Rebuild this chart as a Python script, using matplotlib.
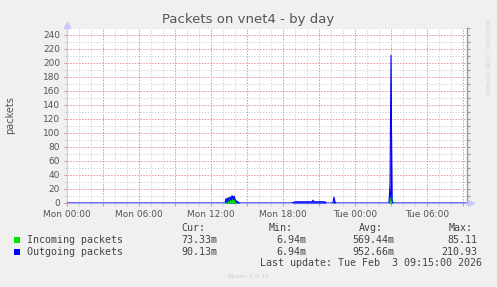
import numpy as np
import matplotlib
matplotlib.use("Agg")
import matplotlib.pyplot as plt
from matplotlib.patches import Rectangle

# datos (horas desde Mon 00:00, paquetes por segundo)
hours_out = [0.0, 13.17, 13.25, 13.33, 13.42, 13.5, 13.58, 13.67, 13.75, 13.83, 13.92,
             14.0, 14.08, 14.17, 14.25, 14.33, 14.42, 18.75, 18.83, 18.92, 19.0, 20.33,
             20.42, 20.5, 20.58, 21.5, 21.58, 22.08, 22.17, 22.25, 22.33, 22.42,
             26.83, 26.92, 27.0, 27.08, 27.17, 33.25]
out_vals = [0.007, 0.007, 6.5, 3.0, 7.5, 5.0, 8.5, 6.0, 10.5, 7.0, 10.0,
            5.0, 3.0, 2.5, 1.5, 0.5, 0.007, 0.007, 1.0, 0.5, 1.8, 1.8,
            2.0, 4.0, 1.8, 1.8, 0.007, 0.007, 1.0, 8.5, 1.0, 0.007,
            0.007, 28.0, 210.93, 4.0, 0.007, 0.007]

hours_in = [0.0, 13.17, 13.25, 13.33, 13.42, 13.5, 13.58, 13.67, 13.75, 13.83, 13.92,
            14.0, 14.08, 14.17, 14.25, 14.33, 20.42, 20.5, 20.58, 22.17, 22.25, 22.33,
            26.83, 26.92, 27.0, 27.08, 27.17, 33.25]
in_vals = [0.007, 0.007, 2.5, 1.0, 4.0, 2.0, 5.5, 3.0, 7.0, 4.0, 6.0,
           2.0, 1.0, 0.8, 0.5, 0.007, 0.007, 2.0, 0.007, 0.007, 1.0, 0.007,
           0.007, 8.0, 14.0, 2.0, 0.007, 0.007]

tick_hours = [0, 6, 12, 18, 24, 30]
tick_labels = ["Mon 00:00", "Mon 06:00", "Mon 12:00", "Mon 18:00", "Tue 00:00", "Tue 06:00"]

series_names = ["Incoming packets", "Outgoing packets"]
series_colors = ["#00e600", "#0000ff"]
cur = ["73.33m", "90.13m"]
vmin = ["6.94m", "6.94m"]
avg = ["569.44m", "952.66m"]
vmax = ["85.11", "210.93"]

W, H = 497, 287
fig = plt.figure(figsize=(W / 100, H / 100), dpi=100, facecolor="#f0f0f0")

def fx(px):
    return px / W

def fy(py):
    return 1 - py / H

ax = fig.add_axes([fx(67), fy(203), (467 - 67) / W, (203 - 28) / H])
ax.set_facecolor("white")

# areas y lineas
ax.fill_between(hours_out, out_vals, color=series_colors[1], lw=0, zorder=3)
ax.fill_between(hours_in, in_vals, color=series_colors[0], lw=0, zorder=3)
ax.plot(hours_out, out_vals, color=series_colors[1], lw=0.8, zorder=4)

ax.set_xlim(0, 400 / 12)
ax.set_ylim(0, 250)

# grilla: menores solo donde no hay mayores
ax.set_yticks(np.arange(0, 241, 20))
ax.set_yticks(np.arange(10, 251, 20), minor=True)
xt = np.arange(0, 34, 3)
ax.set_xticks(xt)
ax.set_xticklabels([tick_labels[tick_hours.index(h)] if h in tick_hours else "" for h in xt])
ax.set_xticks([h for h in range(1, 34) if h % 3 != 0], minor=True)
ax.grid(which="minor", color="#d8d8d8", linestyle=(0, (1.5, 1.5)), lw=0.7)
ax.grid(which="major", color="#e89090", linestyle=(0, (1.5, 1.5)), lw=0.7)
ax.set_axisbelow(True)

ax.tick_params(which="major", length=2.5, color="#e89090", labelsize=6.5,
               labelcolor="#555555", pad=2.5)
ax.tick_params(which="minor", length=2, color="#d0d0d0")

for s in ["top", "right"]:
    ax.spines[s].set_visible(False)
ax.spines["left"].set_color("#c8c8ff")
ax.spines["bottom"].set_color("#b0b0ff")
ax.spines["left"].set_linewidth(0.8)
ax.spines["bottom"].set_linewidth(0.8)

sec = ax.secondary_yaxis("right")
sec.set_yticks(np.arange(0, 251, 10))
sec.set_yticklabels([])
sec.tick_params(length=2, color="#999999")
sec.spines["right"].set_color("#999999")
sec.spines["right"].set_linewidth(1.0)

# flechas de los ejes
ax.plot([0], [1.02], marker="^", ms=4, color="#c8c8ff", transform=ax.transAxes, clip_on=False)
ax.plot([1.01], [0], marker=">", ms=4, color="#c8c8ff", transform=ax.transAxes, clip_on=False)

# textos
fig.text(fx(248), fy(19), "Packets on vnet4 - by day", ha="center", va="center",
         fontsize=9.5, color="#555555")
fig.text(fx(10), fy(115), "packets", rotation=90, ha="center", va="center",
         fontsize=7, color="#555555")
fig.text(fx(487), fy(58), "RRDTOOL / TOBI OETIKER", rotation=270, ha="center",
         va="center", fontsize=4.3, color="#d0d0d0")
fig.text(fx(248), fy(277), "Munin 2.0.75", ha="center", va="center",
         fontsize=4.5, color="#cccccc")

mono = dict(family="DejaVu Sans Mono", fontsize=7.2, color="#444444", va="center")
fig.text(fx(181), fy(228), "Cur:", ha="left", **mono)
fig.text(fx(269), fy(228), "Min:", ha="left", **mono)
fig.text(fx(359), fy(228), "Avg:", ha="left", **mono)
fig.text(fx(449), fy(228), "Max:", ha="left", **mono)

for i, name in enumerate(series_names):
    yy = 240 + 12 * i
    fig.add_artist(Rectangle((fx(14), fy(yy + 3)), 6 / W, 6 / H,
                             transform=fig.transFigure, color=series_colors[i], lw=0))
    fig.text(fx(27), fy(yy), name, ha="left", **mono)
    fig.text(fx(217), fy(yy), cur[i], ha="right", **mono)
    fig.text(fx(306), fy(yy), vmin[i], ha="right", **mono)
    fig.text(fx(394), fy(yy), avg[i], ha="right", **mono)
    fig.text(fx(477), fy(yy), vmax[i], ha="right", **mono)

fig.text(fx(482), fy(263), "Last update: Tue Feb  3 09:15:00 2026", ha="right", **mono)

fig.savefig("out.png", dpi=100, facecolor=fig.get_facecolor())
